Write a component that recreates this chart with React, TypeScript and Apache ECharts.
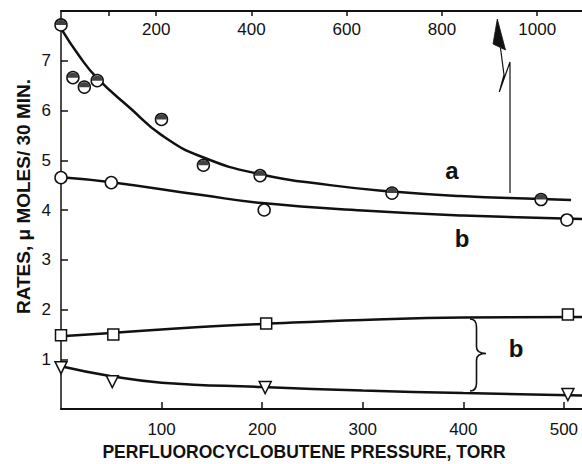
import React, { useEffect, useRef } from "react";
import * as echarts from "echarts";

// ---- axis ticks ----
const bottomTicks = [100, 200, 300, 400, 500];
const topTicks = [100, 200, 400, 600, 800, 1000];
const topTickLabels = [200, 400, 600, 800, 1000];
const rateTicks = [1, 2, 3, 4, 5, 6, 7];

// ---- curve a (half-filled circles), read on the TOP pressure scale ----
const aPressure = [0, 25, 49, 76, 211, 299, 418, 695, 1008];
const aRate = [7.72, 6.66, 6.47, 6.6, 5.82, 4.9, 4.69, 4.34, 4.21];
const aFitPressure = [0, 38, 76, 145, 212, 298, 418, 565, 695, 838, 1008, 1071];
const aFitRate = [7.65, 7.1, 6.65, 6.05, 5.5, 5.06, 4.72, 4.5, 4.37, 4.28, 4.22, 4.2];

// ---- curve b (open circles), bottom pressure scale ----
const bPressure = [0, 50, 202, 503];
const bRate = [4.65, 4.55, 4.0, 3.8];
const bFitPressure = [0, 50, 140, 200, 300, 400, 518];
const bFitRate = [4.66, 4.56, 4.3, 4.14, 3.99, 3.89, 3.82];

// ---- squares ----
const sqPressure = [0, 52, 204, 504];
const sqRate = [1.48, 1.5, 1.72, 1.9];
const sqFitPressure = [0, 50, 138, 200, 300, 400, 518];
const sqFitRate = [1.46, 1.53, 1.65, 1.71, 1.79, 1.84, 1.85];

// ---- triangles ----
const triPressure = [0, 51, 203, 504];
const triRate = [0.83, 0.55, 0.43, 0.29];
const triFitPressure = [0, 50, 100, 200, 300, 400, 518];
const triFitRate = [0.86, 0.66, 0.53, 0.44, 0.37, 0.32, 0.27];

const zip = (xs: number[], ys: number[]) => xs.map((x, i) => [x, ys[i]]);

const BRACE_D =
  "M470,319 Q476.5,319 476.5,327 L476.5,347 Q476.5,353.5 486,353.5 Q476.5,353.5 476.5,360 L476.5,383 Q476.5,391 470,391";
echarts.graphic.registerShape("brace", echarts.graphic.extendPath(BRACE_D, {}));

const INK = "#111";
const FONT = '"Liberation Sans", Arial, sans-serif';
const plain = (v: number) => String(v);

export default function App() {
  const ref = useRef<HTMLDivElement>(null);
  useEffect(() => {
    if (!ref.current) return;
    const chart = echarts.init(ref.current, null, { renderer: "svg" });
    const axisCommon = {
      type: "value" as const,
      axisLine: { show: true, onZero: false, lineStyle: { color: INK, width: 2 } },
      splitLine: { show: false },
    };
    const fitLine = (data: number[][], xAxisIndex = 0) => ({
      type: "line",
      xAxisIndex,
      data,
      smooth: 0.5,
      symbol: "none",
      showSymbol: false,
      lineStyle: { color: INK, width: 2.5 },
      z: 2,
      silent: true,
    });
    const points = (data: number[][], symbol: string, size: number, extra: any = {}) => ({
      type: "scatter",
      data,
      symbol,
      symbolSize: size,
      itemStyle: { color: "#fff", borderColor: INK, borderWidth: 1.5, opacity: 1 },
      z: 3,
      ...extra,
    });
    chart.setOption({
      animation: false,
      backgroundColor: "#fff",
      grid: { left: 61, right: 0, top: 11, bottom: 55 },
      xAxis: [
        {
          ...axisCommon,
          position: "bottom",
          min: 0,
          max: 518,
          axisTick: { show: true, inside: true, length: 7, customValues: bottomTicks, lineStyle: { color: INK, width: 1.5 } },
          axisLabel: { customValues: bottomTicks, formatter: plain, color: INK, fontSize: 17, margin: 12, fontFamily: FONT },
        },
        {
          ...axisCommon,
          position: "top",
          min: 0,
          max: 1094,
          axisTick: { show: true, inside: true, length: 5, customValues: topTicks, lineStyle: { color: INK, width: 1.5 } },
          axisLabel: { inside: true, customValues: topTickLabels, formatter: plain, color: INK, fontSize: 17, margin: 10, fontFamily: FONT },
        },
      ],
      yAxis: {
        ...axisCommon,
        axisLine: { show: true, onZero: false, lineStyle: { color: INK, width: 1.5 } },
        min: 0,
        max: 8,
        axisTick: { show: true, inside: true, length: 7, customValues: rateTicks, lineStyle: { color: INK, width: 1.5 } },
        axisLabel: { customValues: rateTicks, formatter: plain, color: INK, fontSize: 17, margin: 10, fontFamily: FONT },
      },
      series: [
        fitLine(zip(aFitPressure, aFitRate), 1),
        fitLine(zip(bFitPressure, bFitRate)),
        fitLine(zip(sqFitPressure, sqFitRate)),
        fitLine(zip(triFitPressure, triFitRate)),
        points(zip(aPressure, aRate), "circle", 12, { xAxisIndex: 1 }),
        {
          type: "scatter",
          xAxisIndex: 1,
          data: zip(aPressure, aRate),
          symbol: "path://M0,10A10,10 0 0 1 20,10Z",
          symbolSize: [10.5, 5.25],
          symbolOffset: [0, -2.6],
          itemStyle: { color: INK },
          z: 4,
        },
        points(zip(bPressure, bRate), "circle", 12),
        points(zip(sqPressure, sqRate), "rect", 11),
        points(zip(triPressure, triRate), "triangle", 12, { symbolRotate: 180 }),
      ],
      graphic: [
        {
          type: "text",
          x: 23,
          y: 196.5,
          rotation: Math.PI / 2,
          style: {
            text: "RATES, μ MOLES/ 30 MIN.",
            fill: INK,
            fontSize: 19,
            fontWeight: "bold",
            fontFamily: FONT,
            align: "center",
            verticalAlign: "middle",
          },
        },
        {
          type: "text",
          x: 304,
          y: 452,
          style: {
            text: "PERFLUOROCYCLOBUTENE PRESSURE, TORR",
            fill: INK,
            fontSize: 17.5,
            fontWeight: "bold",
            fontFamily: FONT,
            align: "center",
            verticalAlign: "middle",
          },
        },
        { type: "text", x: 452, y: 170, style: { text: "a", fill: INK, fontSize: 24, fontWeight: "bold", fontFamily: FONT, align: "center", verticalAlign: "middle" } },
        { type: "text", x: 462, y: 238, style: { text: "b", fill: INK, fontSize: 24, fontWeight: "bold", fontFamily: FONT, align: "center", verticalAlign: "middle" } },
        { type: "text", x: 516, y: 348, style: { text: "b", fill: INK, fontSize: 24, fontWeight: "bold", fontFamily: FONT, align: "center", verticalAlign: "middle" } },
        {
          type: "polyline",
          shape: { points: [[510, 193], [510, 62], [499.3, 92], [504, 75], [500.5, 48]] },
          style: { stroke: INK, lineWidth: 1.2, fill: "none" },
        },
        {
          type: "polygon",
          shape: { points: [[497.3, 19], [493, 44], [505.5, 50]] },
          style: { fill: INK, stroke: INK, lineWidth: 0.8 },
        },
        { type: "brace", x: 0, y: 0, style: { stroke: INK, lineWidth: 1.6, fill: "none" } },
      ],
    });
    return () => chart.dispose();
  }, []);
  return <div ref={ref} style={{ width: 582, height: 464, position: "fixed", left: 0, top: 0 }} />;
}
